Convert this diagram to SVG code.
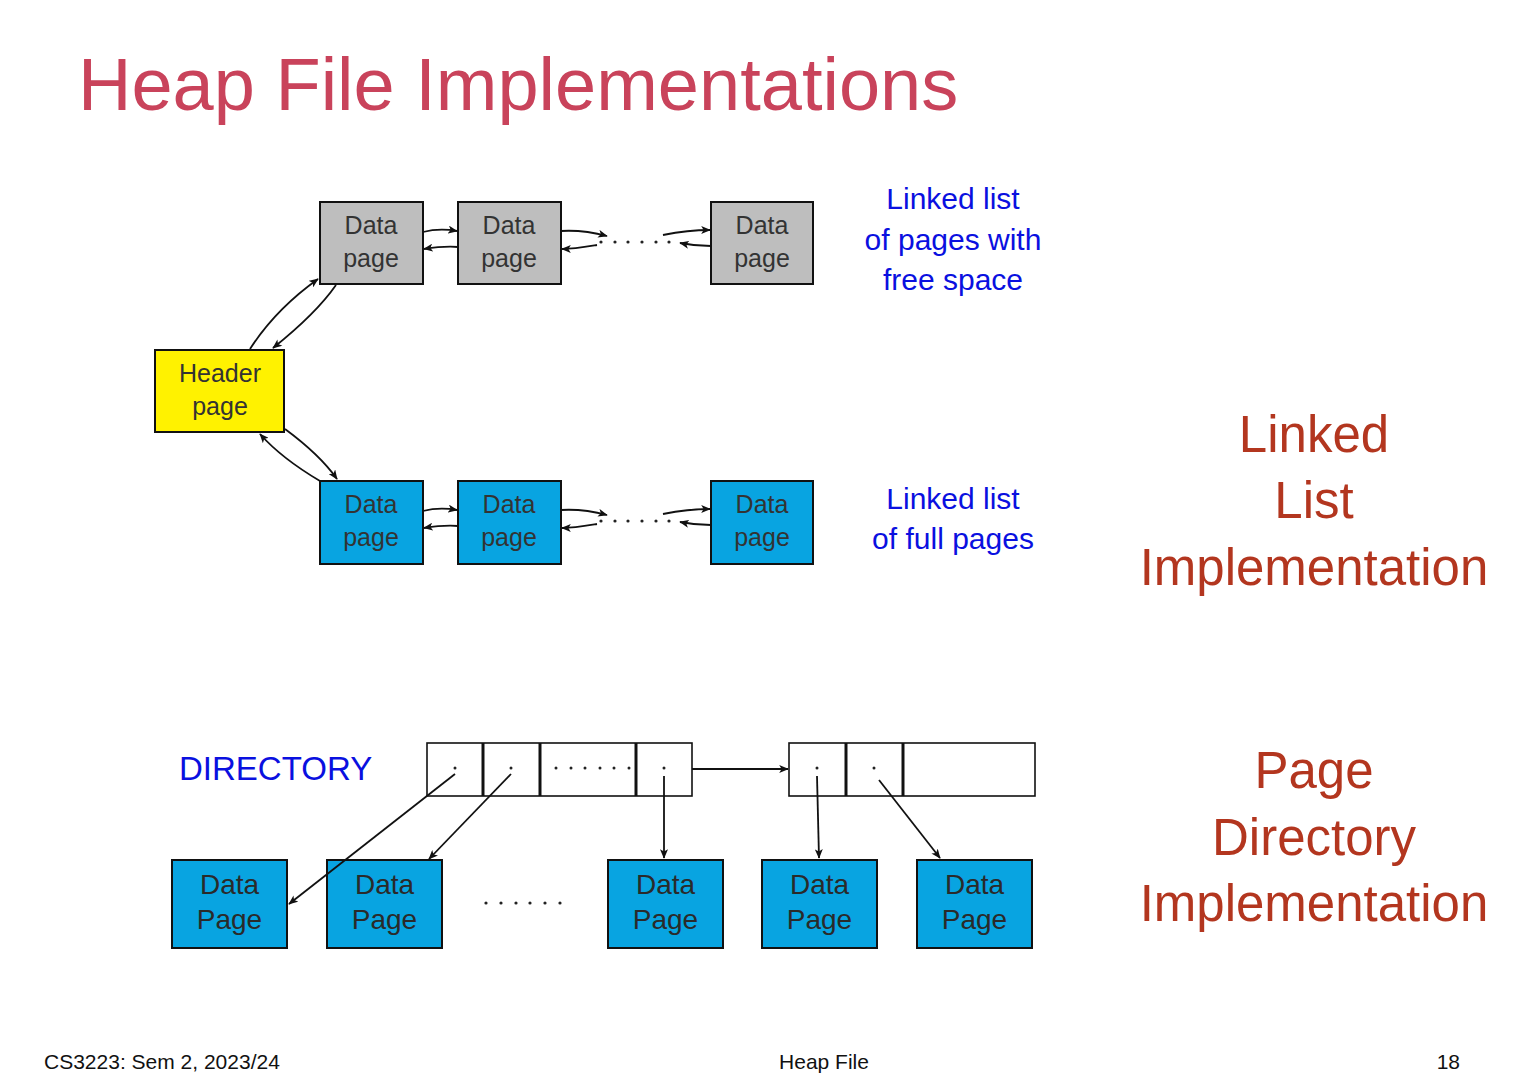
<svg xmlns="http://www.w3.org/2000/svg" width="1528" height="1080" viewBox="0 0 1528 1080">
  <style>
    .box { stroke: #111; stroke-width: 2; }
    .gray { fill: #BEBEBE; }
    .blue { fill: #08A4E1; }
    .yellow { fill: #FFF200; }
    .plain { fill: #FFFFFF; stroke: #111; stroke-width: 1.6; }
    .div { stroke: #111; stroke-width: 3; }
    .lbl { font-family: "Liberation Sans", Arial, sans-serif; font-size: 25px; fill: #333; text-anchor: middle; }
    .lbl2 { font-family: "Liberation Sans", Arial, sans-serif; font-size: 28px; fill: #2a2a2a; text-anchor: middle; }
    .note { font-family: "Liberation Sans", Arial, sans-serif; font-size: 30px; fill: #0A10E0; text-anchor: middle; }
    .side { font-family: "Liberation Sans", Arial, sans-serif; font-size: 51px; fill: #B3361F; text-anchor: middle; }
    .foot { font-family: "Liberation Sans", Arial, sans-serif; font-size: 21px; fill: #111; }
    .conn { fill: none; stroke: #111; stroke-width: 1.8; marker-end: url(#arr); }
    .dot { fill: #222; }
  </style>
  <defs>
    <marker id="arr" viewBox="0 0 12 10" refX="11" refY="5" markerWidth="10" markerHeight="8" markerUnits="userSpaceOnUse" orient="auto">
      <path d="M0,0 L12,5 L0,10 L3,5 Z" fill="#111"/>
    </marker>
  </defs>

  <rect width="1528" height="1080" fill="#FFFFFF"/>

  <!-- title -->
  <text x="78" y="110" font-family="Liberation Sans, Arial, sans-serif" font-size="74" fill="#C9435B">Heap File Implementations</text>

  <!-- linked list: header page -->
  <g id="header">
    <rect class="box yellow" x="155" y="350" width="129" height="82"/>
    <text class="lbl" x="220" y="382">Header</text>
    <text class="lbl" x="220" y="415">page</text>
  </g>

  <!-- pages with free space -->
  <g id="free1">
    <rect class="box gray" x="320" y="202" width="103" height="82"/>
    <text class="lbl" x="371" y="234">Data</text>
    <text class="lbl" x="371" y="267">page</text>
  </g>
  <g id="free2">
    <rect class="box gray" x="458" y="202" width="103" height="82"/>
    <text class="lbl" x="509" y="234">Data</text>
    <text class="lbl" x="509" y="267">page</text>
  </g>
  <g id="free3">
    <rect class="box gray" x="711" y="202" width="102" height="82"/>
    <text class="lbl" x="762" y="234">Data</text>
    <text class="lbl" x="762" y="267">page</text>
  </g>

  <!-- full pages -->
  <g id="full1">
    <rect class="box blue" x="320" y="481" width="103" height="83"/>
    <text class="lbl" x="371" y="513">Data</text>
    <text class="lbl" x="371" y="546">page</text>
  </g>
  <g id="full2">
    <rect class="box blue" x="458" y="481" width="103" height="83"/>
    <text class="lbl" x="509" y="513">Data</text>
    <text class="lbl" x="509" y="546">page</text>
  </g>
  <g id="full3">
    <rect class="box blue" x="711" y="481" width="102" height="83"/>
    <text class="lbl" x="762" y="513">Data</text>
    <text class="lbl" x="762" y="546">page</text>
  </g>

  <!-- ellipses between list pages -->
  <g id="ellipsis-free">
    <circle class="dot" cx="601" cy="242" r="1.6"/>
    <circle class="dot" cx="615" cy="242" r="1.6"/>
    <circle class="dot" cx="628" cy="242" r="1.6"/>
    <circle class="dot" cx="642" cy="242" r="1.6"/>
    <circle class="dot" cx="656" cy="242" r="1.6"/>
    <circle class="dot" cx="669" cy="242" r="1.6"/>
  </g>
  <g id="ellipsis-full">
    <circle class="dot" cx="601" cy="521" r="1.6"/>
    <circle class="dot" cx="615" cy="521" r="1.6"/>
    <circle class="dot" cx="628" cy="521" r="1.6"/>
    <circle class="dot" cx="642" cy="521" r="1.6"/>
    <circle class="dot" cx="656" cy="521" r="1.6"/>
    <circle class="dot" cx="669" cy="521" r="1.6"/>
  </g>

  <!-- directory -->
  <g id="directory-label">
    <text x="179" y="780" font-family="Liberation Sans, Arial, sans-serif" font-size="33" fill="#0A10E0">DIRECTORY</text>
  </g>
  <g id="dir-block1">
    <rect class="plain" x="427" y="743" width="265" height="53"/>
    <line class="div" x1="483" y1="743" x2="483" y2="796"/>
    <line class="div" x1="540" y1="743" x2="540" y2="796"/>
    <line class="div" x1="636" y1="743" x2="636" y2="796"/>
    <circle class="dot" cx="455" cy="768" r="1.5"/>
    <circle class="dot" cx="511" cy="768" r="1.5"/>
    <circle class="dot" cx="556" cy="768" r="1.5"/>
    <circle class="dot" cx="571" cy="768" r="1.5"/>
    <circle class="dot" cx="585" cy="768" r="1.5"/>
    <circle class="dot" cx="600" cy="768" r="1.5"/>
    <circle class="dot" cx="614" cy="768" r="1.5"/>
    <circle class="dot" cx="629" cy="768" r="1.5"/>
    <circle class="dot" cx="664" cy="768" r="1.5"/>
  </g>
  <g id="dir-block2">
    <rect class="plain" x="789" y="743" width="246" height="53"/>
    <line class="div" x1="846" y1="743" x2="846" y2="796"/>
    <line class="div" x1="903" y1="743" x2="903" y2="796"/>
    <circle class="dot" cx="817" cy="768" r="1.5"/>
    <circle class="dot" cx="874" cy="768" r="1.5"/>
  </g>

  <!-- directory data pages -->
  <g id="dp1">
    <rect class="box blue" x="172" y="860" width="115" height="88"/>
    <text class="lbl2" x="229.5" y="894">Data</text>
    <text class="lbl2" x="229.5" y="929">Page</text>
  </g>
  <g id="dp2">
    <rect class="box blue" x="327" y="860" width="115" height="88"/>
    <text class="lbl2" x="384.5" y="894">Data</text>
    <text class="lbl2" x="384.5" y="929">Page</text>
  </g>
  <g id="dp3">
    <rect class="box blue" x="608" y="860" width="115" height="88"/>
    <text class="lbl2" x="665.5" y="894">Data</text>
    <text class="lbl2" x="665.5" y="929">Page</text>
  </g>
  <g id="dp4">
    <rect class="box blue" x="762" y="860" width="115" height="88"/>
    <text class="lbl2" x="819.5" y="894">Data</text>
    <text class="lbl2" x="819.5" y="929">Page</text>
  </g>
  <g id="dp5">
    <rect class="box blue" x="917" y="860" width="115" height="88"/>
    <text class="lbl2" x="974.5" y="894">Data</text>
    <text class="lbl2" x="974.5" y="929">Page</text>
  </g>
  <g id="ellipsis-dp">
    <circle class="dot" cx="486" cy="903" r="1.6"/>
    <circle class="dot" cx="501" cy="903" r="1.6"/>
    <circle class="dot" cx="516" cy="903" r="1.6"/>
    <circle class="dot" cx="530" cy="903" r="1.6"/>
    <circle class="dot" cx="545" cy="903" r="1.6"/>
    <circle class="dot" cx="560" cy="903" r="1.6"/>
  </g>

  <!-- connectors -->
  <g id="connectors">
    <!-- header to free-space list -->
    <path class="conn" d="M250,349 C268,321 290,299 318,279"/>
    <path class="conn" d="M336,285 C320,308 298,328 273,348"/>
    <!-- header to full list -->
    <path class="conn" d="M285,429 C308,446 325,462 337,479"/>
    <path class="conn" d="M320,481 C298,468 276,452 260,434"/>

    <!-- free-space list links -->
    <path class="conn" d="M423,232 C435,229 445,229 457,231"/>
    <path class="conn" d="M458,247 C447,246 437,247 424,249"/>
    <path class="conn" d="M561,231 C578,230 592,232 607,236"/>
    <path class="conn" d="M597,245 C585,247 574,249 562,249"/>
    <path class="conn" d="M663,235 C678,232 695,230 710,230"/>
    <path class="conn" d="M711,246 C700,246 690,245 680,243"/>

    <!-- full list links -->
    <path class="conn" d="M423,511 C435,508 445,508 457,510"/>
    <path class="conn" d="M458,526 C447,525 437,526 424,528"/>
    <path class="conn" d="M561,510 C578,509 592,511 607,515"/>
    <path class="conn" d="M597,524 C585,526 574,528 562,528"/>
    <path class="conn" d="M663,514 C678,511 695,509 710,509"/>
    <path class="conn" d="M711,525 C700,525 690,524 680,522"/>

    <!-- directory pointers -->
    <path class="conn" d="M692,769 L788,769"/>
    <path class="conn" d="M455,774 L289,904"/>
    <path class="conn" d="M511,774 L429,859"/>
    <path class="conn" d="M664,776 L664,858"/>
    <path class="conn" d="M817,776 L819,858"/>
    <path class="conn" d="M879,780 L940,858"/>
  </g>

  <!-- annotations -->
  <text class="note" x="953" y="209">Linked list</text>
  <text class="note" x="953" y="250">of pages with</text>
  <text class="note" x="953" y="290">free space</text>
  <text class="note" x="953" y="509">Linked list</text>
  <text class="note" x="953" y="549">of full pages</text>

  <text class="side" x="1314" y="452">Linked</text>
  <text class="side" x="1314" y="518">List</text>
  <text class="side" x="1314" y="585">Implementation</text>
  <text class="side" x="1314" y="788">Page</text>
  <text class="side" x="1314" y="855">Directory</text>
  <text class="side" x="1314" y="921">Implementation</text>

  <!-- footer -->
  <text class="foot" x="44" y="1069">CS3223: Sem 2, 2023/24</text>
  <text class="foot" x="824" y="1069" text-anchor="middle">Heap File</text>
  <text class="foot" x="1460" y="1069" text-anchor="end">18</text>
</svg>
